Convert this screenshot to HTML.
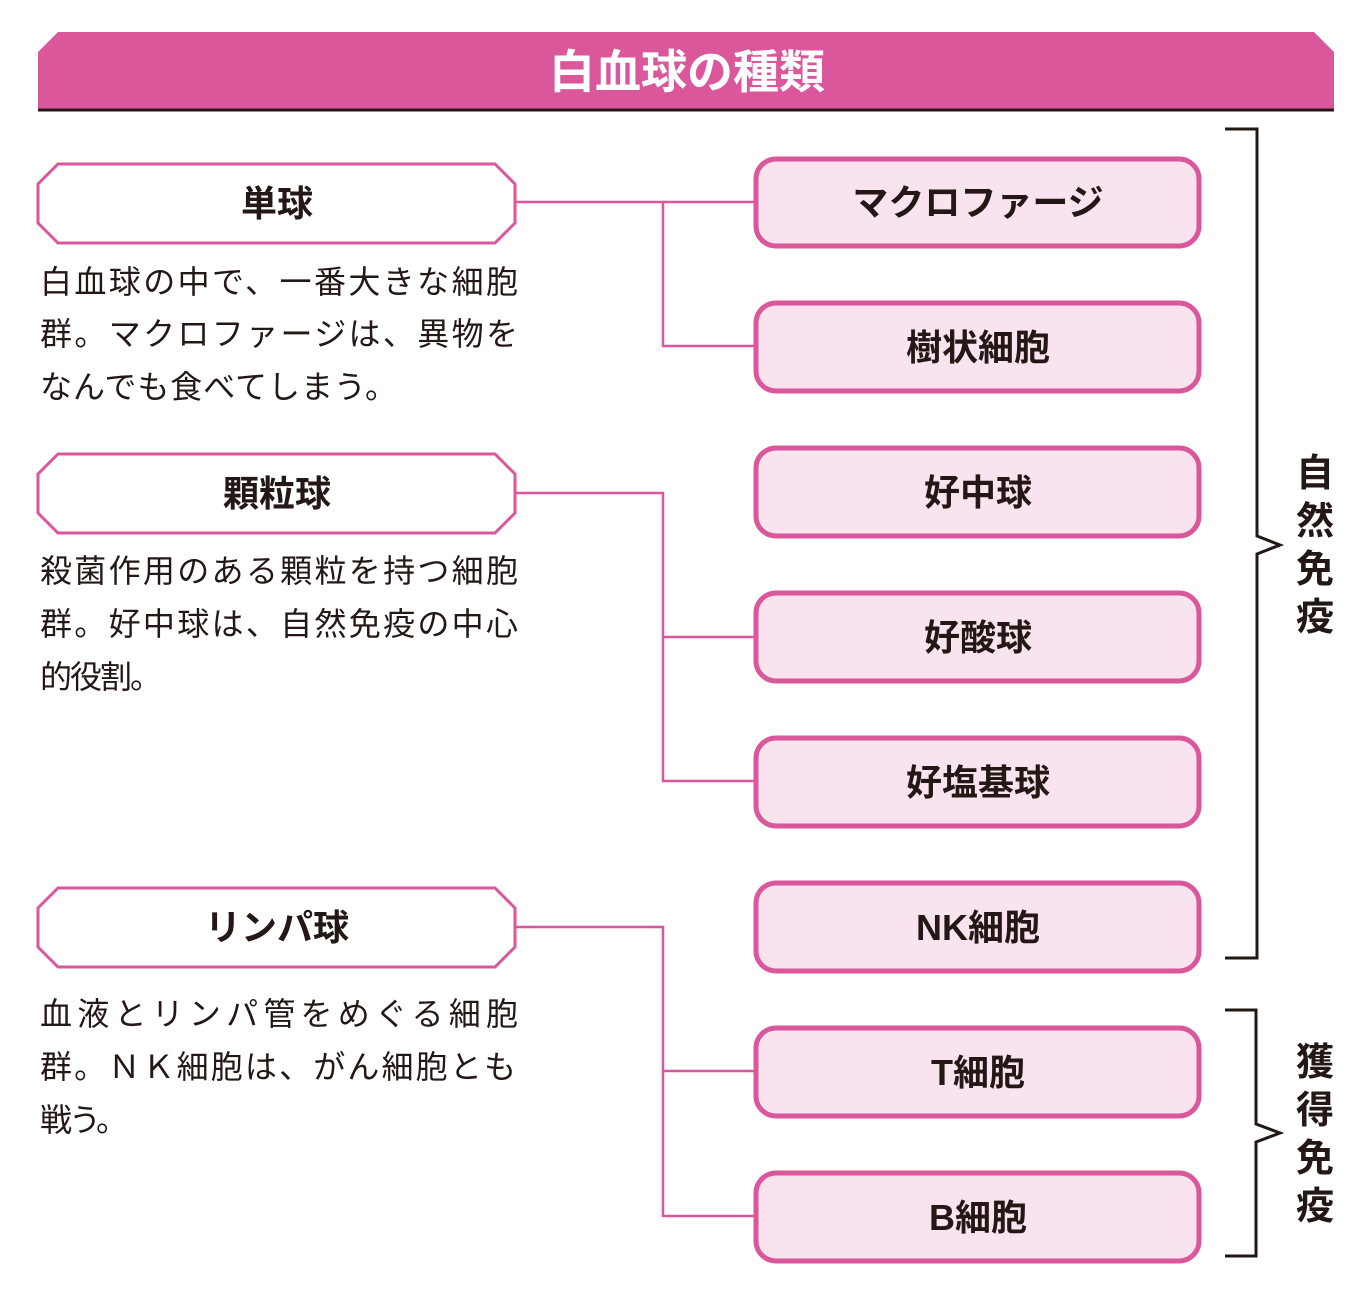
<!DOCTYPE html>
<html><head><meta charset="utf-8"><style>
html,body{margin:0;padding:0;background:#fff;}
svg{display:block;}
text{font-family:"Liberation Sans","Noto Sans CJK JP",sans-serif;}
</style></head><body>
<svg width="1369" height="1304" viewBox="0 0 1369 1304" xmlns="http://www.w3.org/2000/svg">
<polygon points="58,32 1314,32 1334,52 1334,110 38,110 38,52" fill="#d9579a"/>
<line x1="38" y1="110" x2="1334" y2="110" stroke="#231815" stroke-width="3"/>
<text x="687" y="88" font-size="46" font-weight="bold" fill="#fff" text-anchor="middle">白血球の種類</text>

<g fill="none" stroke="#d9579a" stroke-width="2.5">
<polyline points="515,202 663,202 663,346 755,346"/><line x1="663" y1="202" x2="755" y2="202"/>
<polyline points="515,493 663,493 663,781 755,781"/><line x1="663" y1="637" x2="755" y2="637"/>
<polyline points="515,927 663,927 663,1216 755,1216"/><line x1="663" y1="1071" x2="755" y2="1071"/>
</g>

<g fill="#fff" stroke="#d9579a" stroke-width="3">
<polygon points="58,164 495,164 515,184 515,223 495,243 58,243 38,223 38,184"/>
<polygon points="58,454 495,454 515,474 515,513 495,533 58,533 38,513 38,474"/>
<polygon points="58,888 495,888 515,908 515,947 495,967 58,967 38,947 38,908"/>
</g>
<g font-size="36" font-weight="bold" fill="#231815" text-anchor="middle">
<text x="277" y="216">単球</text>
<text x="277" y="506">顆粒球</text>
<text x="277" y="940">リンパ球</text>
</g>

<g font-size="32" fill="#231815">
<text x="40" y="293" textLength="478" lengthAdjust="spacing">白血球の中で、一番大きな細胞</text>
<text x="40" y="345" textLength="478" lengthAdjust="spacing">群。マクロファージは、異物を</text>
<text x="40" y="398" textLength="357" lengthAdjust="spacing">なんでも食べてしまう。</text>
<text x="40" y="582" textLength="478" lengthAdjust="spacing">殺菌作用のある顆粒を持つ細胞</text>
<text x="40" y="635" textLength="478" lengthAdjust="spacing">群。好中球は、自然免疫の中心</text>
<text x="40" y="688" textLength="122" lengthAdjust="spacing">的役割。</text>
<text x="40" y="1025" textLength="478" lengthAdjust="spacing">血液とリンパ管をめぐる細胞</text>
<text x="40" y="1078" textLength="476" lengthAdjust="spacing">群。ＮＫ細胞は、がん細胞とも</text>
<text x="40" y="1131" textLength="88" lengthAdjust="spacing">戦う。</text>
</g>

<g fill="#f8e3ee" stroke="#d9579a" stroke-width="5">
<rect x="756" y="159" width="443" height="87" rx="20"/>
<rect x="756" y="303" width="443" height="88" rx="20"/>
<rect x="756" y="448" width="443" height="88" rx="20"/>
<rect x="756" y="593" width="443" height="88" rx="20"/>
<rect x="756" y="738" width="443" height="88" rx="20"/>
<rect x="756" y="883" width="443" height="88" rx="20"/>
<rect x="756" y="1028" width="443" height="88" rx="20"/>
<rect x="756" y="1173" width="443" height="88" rx="20"/>
</g>
<g font-size="36" fill="#231815" text-anchor="middle" font-weight="bold">
<text x="978" y="215">マクロファージ</text>
<text x="978" y="360">樹状細胞</text>
<text x="978" y="505">好中球</text>
<text x="978" y="650">好酸球</text>
<text x="978" y="795">好塩基球</text>
<text x="978" y="940">NK細胞</text>
<text x="978" y="1085">T細胞</text>
<text x="978" y="1230">B細胞</text>
</g>

<g fill="none" stroke="#231815" stroke-width="3">
<polyline points="1225,129 1257,129 1257,536 1280,545 1257,554 1257,958 1225,958"/>
<polyline points="1225,1010 1256,1010 1256,1124 1280,1133 1256,1142 1256,1256 1225,1256"/>
</g>
<g font-size="38" font-weight="bold" fill="#231815" text-anchor="middle">
<text x="1315" y="486">自</text><text x="1315" y="534">然</text><text x="1315" y="582">免</text><text x="1315" y="630">疫</text>
<text x="1315" y="1075">獲</text><text x="1315" y="1123">得</text><text x="1315" y="1171">免</text><text x="1315" y="1219">疫</text>
</g>
</svg>
</body></html>
